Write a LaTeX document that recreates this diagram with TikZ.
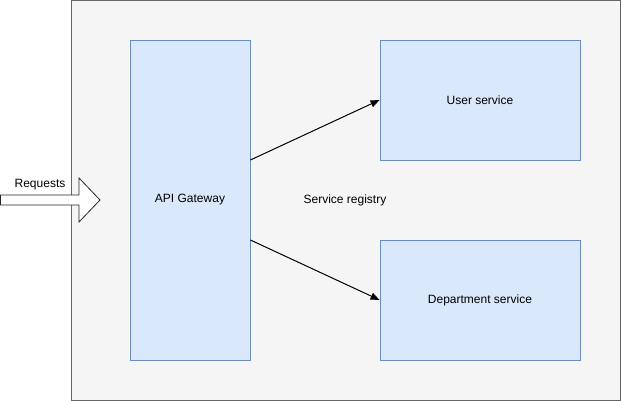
\documentclass[tikz,border=0pt]{standalone}
\usepackage{fontspec}
\setmainfont{Liberation Sans}
\usetikzlibrary{arrows.meta}
\definecolor{outerfill}{HTML}{F5F5F5}
\definecolor{outerline}{HTML}{666666}
\definecolor{boxfill}{HTML}{DAE8FC}
\definecolor{boxline}{HTML}{6C8EBF}
\tikzset{
  svcbox/.style={draw=boxline, fill=boxfill, line width=0.8pt, inner sep=0pt, font=\fontsize{12}{14}\selectfont},
  conn/.style={draw=black, line width=1pt, -{Triangle[length=9pt,width=7pt]}},
  lbl/.style={font=\fontsize{12}{14}\selectfont, inner sep=0pt}
}
\begin{document}
\begin{tikzpicture}[x=1pt,y=-1pt]
\useasboundingbox (0,0) rectangle (621,401);
\node[draw=outerline, fill=outerfill, line width=1pt, minimum width=549pt, minimum height=399pt, inner sep=0pt, anchor=north west] (outer) at (70.5,0.5) {};
\node[svcbox, minimum width=120pt, minimum height=320pt] (gw) at (190,200) {API Gateway};
\node[svcbox, minimum width=200pt, minimum height=120pt] (user) at (480,100) {User service};
\node[svcbox, minimum width=200pt, minimum height=120pt] (dept) at (480,300) {Department service};
\node[lbl] (reg) at (345,200) {Service registry};
\coordinate (g1) at (gw.east |- 0,160);
\coordinate (g2) at (gw.east |- 0,240);
\draw[conn] (g1) -- (user.west);
\draw[conn] (g2) -- (dept.west);
% Requests block arrow
\coordinate (rq) at (0,200);
\draw[black!85, line width=0.8pt, fill=white] (0.5,195) -- (79,195) -- (79,178) -- (100,200) -- (79,222) -- (79,205) -- (0.5,205) -- cycle;
\node[lbl] (req) at (40,185) {Requests};
\end{tikzpicture}
\end{document}
